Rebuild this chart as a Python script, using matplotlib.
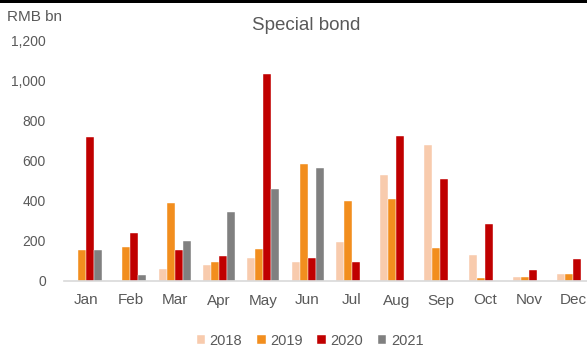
import matplotlib
matplotlib.use("Agg")
import matplotlib.pyplot as plt
import numpy as np
from matplotlib.patches import Rectangle

months = ["Jan", "Feb", "Mar", "Apr", "May", "Jun", "Jul", "Aug", "Sep", "Oct", "Nov", "Dec"]
years = ["2018", "2019", "2020", "2021"]
v2018 = [0, 0, 58, 80, 115, 93, 195, 528, 677, 128, 22, 33]
v2019 = [153, 170, 390, 93, 158, 583, 398, 408, 165, 15, 22, 33]
v2020 = [718, 237, 153, 123, 1032, 117, 93, 723, 510, 285, 53, 112]
v2021 = [153, 28, 200, 343, 457, 563, 0, 0, 0, 0, 0, 0]
colors = ["#F8CBAD", "#F28E1E", "#C00000", "#808080"]
series = [v2018, v2019, v2020, v2021]

plt.rcParams['font.family'] = ['Liberation Sans', 'DejaVu Sans']
txt = "#595959"

fig = plt.figure(figsize=(5.87, 3.49), dpi=100)
ax = fig.add_axes([64/587, (349-281)/349, 1 - 64/587, (281-40)/349])

x = np.arange(len(months))
w = 0.18
for i, (vals, c, y) in enumerate(zip(series, colors, years)):
    ax.bar(x + (i - 1.5) * w, vals, width=w, color=c, label=y, edgecolor='white', linewidth=0.3)

ax.set_xlim(-0.5, 11.31)
ax.set_ylim(0, 1200)
ax.set_yticks(range(0, 1201, 200))
ax.set_yticklabels([f"{t:,}" for t in range(0, 1201, 200)])
ax.set_xticks(x)
ax.set_xticklabels(months)
ax.tick_params(axis='y', length=0, pad=13, labelsize=10, labelcolor=txt)
ax.tick_params(axis='x', length=0, pad=9, labelsize=11, labelcolor=txt)
for s in ["top", "right", "left"]:
    ax.spines[s].set_visible(False)
ax.spines["bottom"].set_color("#D9D9D9")
ax.spines["bottom"].set_linewidth(1.2)

fig.text(7/587, 1 - 17/349, "RMB bn", fontsize=11, color=txt, ha='left', va='center')
fig.text(306/587, 1 - 25/349, "Special bond", fontsize=13.5, color=txt, ha='center', va='center')

fig.add_artist(Rectangle((0, 1 - 2.5/349), 1, 2.5/349, transform=fig.transFigure,
                         facecolor='black', edgecolor='none'))

leg = fig.legend(loc='center', bbox_to_anchor=(310/587, 1 - 341/349), ncol=4, frameon=False,
                 fontsize=10.5, handlelength=0.6, handleheight=0.6, handletextpad=0.3,
                 columnspacing=1.0, labelcolor=txt)

fig.savefig("out.png", dpi=100)
